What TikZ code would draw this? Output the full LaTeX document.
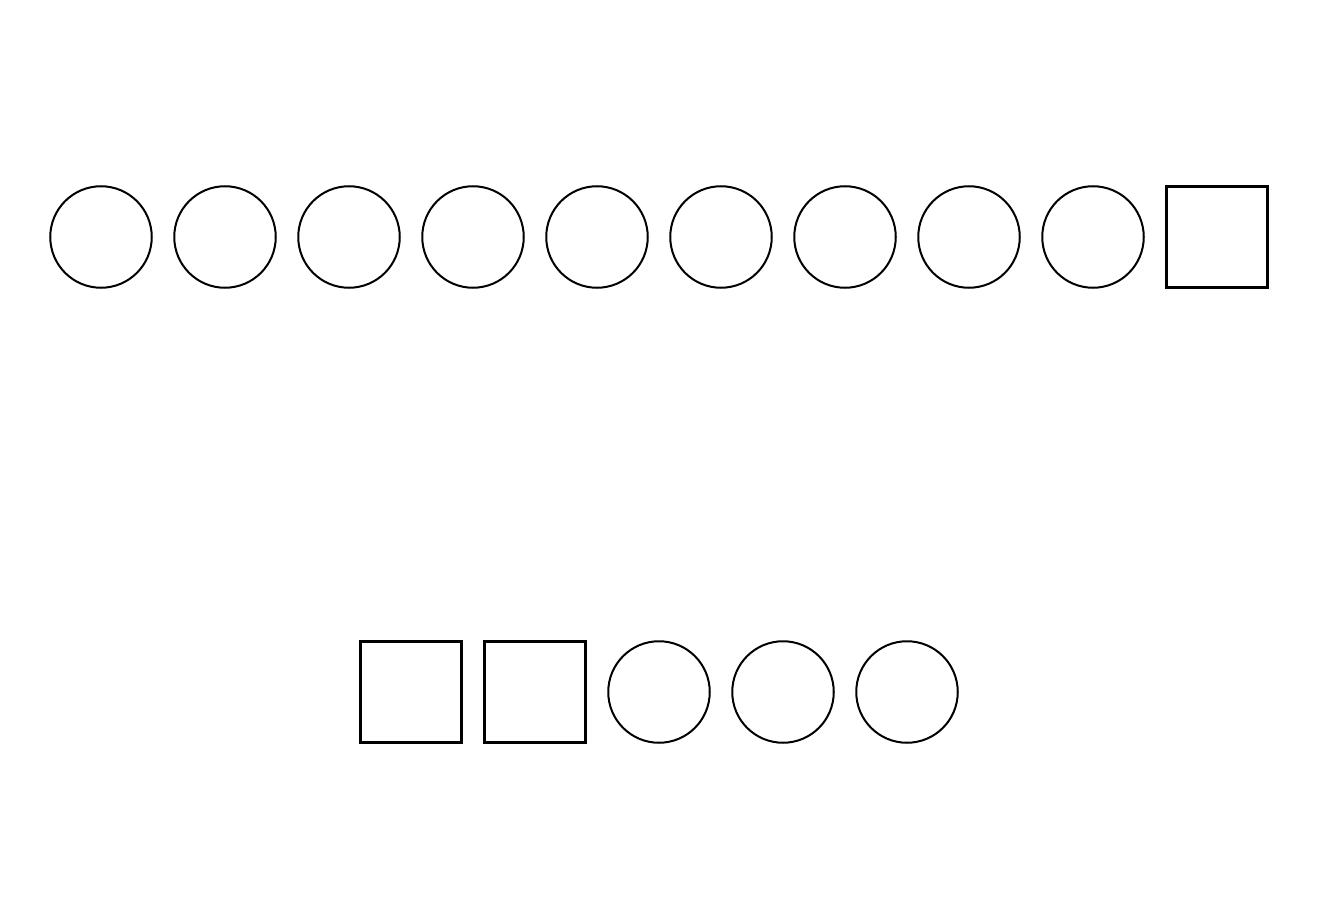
\documentclass[tikz,border=0pt]{standalone}
\begin{document}
\begin{tikzpicture}[x=1pt,y=-1pt,
  ball/.style={draw=black,circle,line width=2pt,minimum size=101.5pt,inner sep=0pt},
  blockbox/.style={draw=black,rectangle,line width=2.2pt,minimum size=101pt,inner sep=0pt}]
\useasboundingbox[fill=white] (0,0) rectangle (1319,909);
\foreach \i/\x in {1/101,2/225,3/349,4/473,5/597,6/721,7/845,8/969,9/1093}
  \node[ball] (t\i) at (\x,237) {};
\node[blockbox] (t10) at (1217,237) {};
\node[blockbox] (b1) at (411,692) {};
\node[blockbox] (b2) at (535,692) {};
\node[ball] (b3) at (659,692) {};
\node[ball] (b4) at (783,692) {};
\node[ball] (b5) at (907,692) {};
\end{tikzpicture}
\end{document}
